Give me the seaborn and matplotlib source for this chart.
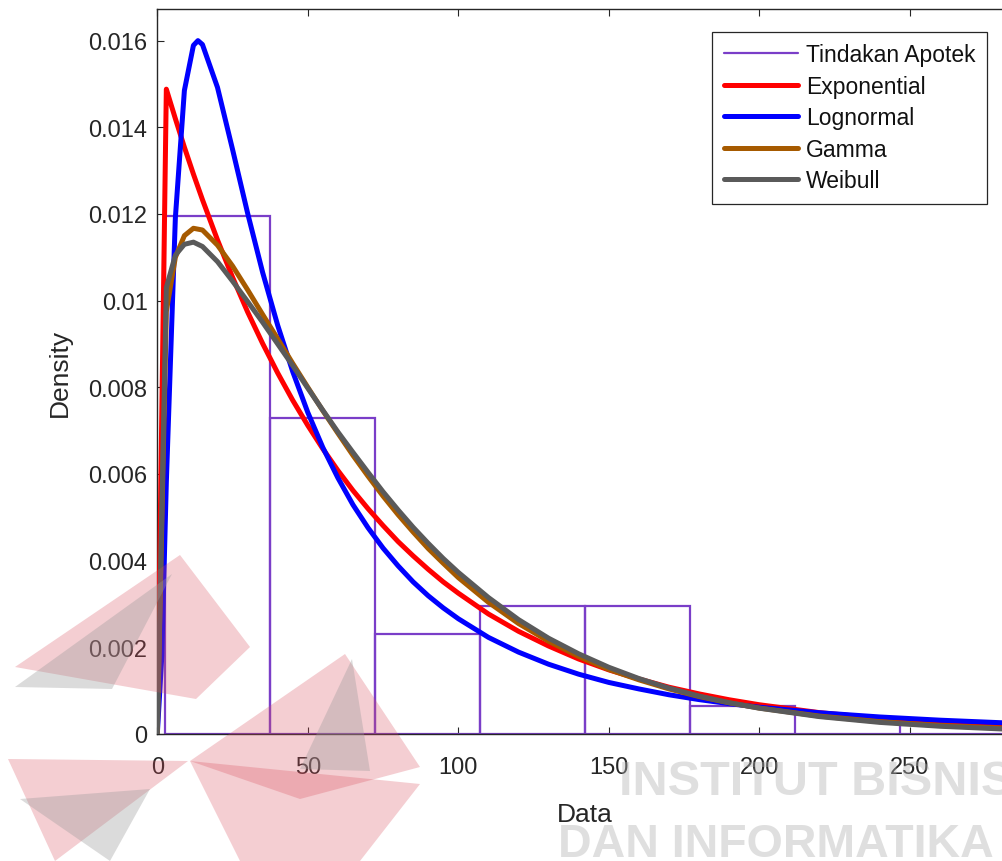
import matplotlib
matplotlib.use("Agg")
import matplotlib.pyplot as plt
import seaborn as sns
from matplotlib.lines import Line2D
from matplotlib.patches import Polygon
from matplotlib.ticker import FuncFormatter

# --- histogram of "Tindakan Apotek" (density per bin) ---
bin_edges = [2.5, 37.4, 72.3, 107.2, 142.1, 177.0, 211.9, 246.8, 281.7]
bin_density = [0.01195, 0.00729, 0.00231, 0.00295, 0.00295, 0.00064, 0.0, 0.0002]

# --- fitted pdf curves ---
x_grid = [0, 3, 6, 9, 12, 15, 20, 25, 30, 35, 40, 45, 50, 55, 60, 65, 70, 75,
          80, 85, 90, 95, 100, 110, 120, 130, 140, 150, 160, 170, 180, 190,
          200, 220, 240, 260, 280, 300]

exp_y = [0, 0.01488, 0.0142, 0.01354, 0.01292, 0.01233, 0.0114, 0.01054,
         0.00974, 0.00901, 0.00833, 0.0077, 0.00712, 0.00658, 0.00608, 0.00562,
         0.0052, 0.00481, 0.00444, 0.00411, 0.0038, 0.00351, 0.00325, 0.00277,
         0.00237, 0.00203, 0.00173, 0.00148, 0.00127, 0.00108, 0.000925,
         0.00079, 0.000675, 0.000493, 0.00036, 0.000263, 0.000192, 0.00014]

logn_x = [0, 1.5, 3, 6, 9, 12, 13.5] + x_grid[5:]
logn_y = [0, 0.0018, 0.00581, 0.01191, 0.01485, 0.01589, 0.0160, 0.01591,
          0.01492, 0.01349, 0.01202, 0.01065, 0.00943, 0.00836, 0.00742,
          0.00661, 0.00591, 0.00529, 0.00476, 0.00429, 0.00388, 0.00351,
          0.00319, 0.00291, 0.00266, 0.00223, 0.00189, 0.00161, 0.00138,
          0.00119, 0.00104, 0.000905, 0.000794, 0.0007, 0.000619, 0.00049,
          0.000393, 0.000319, 0.000261, 0.000216]

gam_y = [0, 0.00975, 0.0110, 0.0115, 0.01167, 0.01163, 0.01128, 0.0108,
         0.01025, 0.00968, 0.00912, 0.00855, 0.008, 0.00746, 0.00694, 0.00643,
         0.00595, 0.00549, 0.00506, 0.00466, 0.00428, 0.00394, 0.00361,
         0.00304, 0.00255, 0.00214, 0.00179, 0.00149, 0.00125, 0.00104,
         0.000865, 0.00072, 0.000599, 0.000413, 0.000285, 0.000196, 0.000135,
         0.000092]

wbl_y = [0, 0.0103, 0.01105, 0.0113, 0.01135, 0.01125, 0.0109, 0.01045,
         0.00998, 0.0095, 0.009, 0.0085, 0.00798, 0.00747, 0.00697, 0.0065,
         0.00604, 0.00559, 0.00517, 0.00477, 0.0044, 0.00405, 0.00373,
         0.00315, 0.00264, 0.00221, 0.00185, 0.00154, 0.00128, 0.00106,
         0.000876, 0.000723, 0.000595, 0.000401, 0.000268, 0.000179,
         0.000118, 0.000078]

x_ticks = [0, 50, 100, 150, 200, 250]
y_ticks = [0, 0.002, 0.004, 0.006, 0.008, 0.01, 0.012, 0.014, 0.016]

PURPLE = "#7a3ec8"
curves = [
    ("Exponential", x_grid, exp_y, "#ff0000"),
    ("Lognormal", logn_x, logn_y, "#0000ff"),
    ("Gamma", x_grid, gam_y, "#a65a00"),
    ("Weibull", x_grid, wbl_y, "#5a5a5a"),
]

sns.set_theme(style="ticks")
plt.rcParams["font.family"] = ["Liberation Sans", "DejaVu Sans"]

W, H = 1003, 862
fig = plt.figure(figsize=(W / 100, H / 100), dpi=100)
x_right = 1012
ax = fig.add_axes([157.3 / W, (H - 735) / H, (x_right - 157.3) / W, 725 / H])

centers = [(a + b) / 2 for a, b in zip(bin_edges[:-1], bin_edges[1:])]
sns.histplot(x=centers, weights=bin_density, bins=bin_edges, stat="count",
             fill=False, color=PURPLE, linewidth=1.6, ax=ax, zorder=2)

for name, xs, ys, col in curves:
    sns.lineplot(x=xs, y=ys, color=col, linewidth=3.6, ax=ax, zorder=3,
                 legend=False)

ax.set_xlim(0, (x_right - 157.3) / 3.01)
ax.set_ylim(0, 0.01673)
ax.set_xticks(x_ticks)
ax.set_yticks(y_ticks)
ax.yaxis.set_major_formatter(FuncFormatter(lambda v, p: f"{v:g}"))
ax.xaxis.set_major_formatter(FuncFormatter(lambda v, p: f"{v:g}"))

ax.tick_params(direction="in", length=5, width=0.8, top=True, right=True,
               colors="#262626", labelsize=17)
ax.tick_params(axis="x", pad=16)
ax.tick_params(axis="y", pad=7)
for sp in ax.spines.values():
    sp.set_visible(True)
    sp.set_color("#262626")
    sp.set_linewidth(1.0)

ax.set_xlabel("Data", fontsize=19, color="#262626", labelpad=17)
ax.set_ylabel("Density", fontsize=19, color="#262626", labelpad=12)

handles = [Line2D([], [], color=PURPLE, linewidth=1.6)]
handles += [Line2D([], [], color=c, linewidth=3.6) for _, _, _, c in curves]
labels = ["Tindakan Apotek"] + [n for n, _, _, _ in curves]
ax_w = x_right - 157.3
leg = ax.legend(handles, labels, loc="upper right",
                bbox_to_anchor=((987 - 157.3) / ax_w, (735 - 33) / 725),
                borderaxespad=0, fontsize=16.5, handlelength=3.25,
                handletextpad=0.35, labelspacing=0.37, fancybox=False,
                framealpha=1, edgecolor="#262626", borderpad=0.5)
leg.get_frame().set_linewidth(0.9)
for t in leg.get_texts():
    t.set_color("#111111")

# --- watermark (logo + institute name) ---
def fig_poly(pts, color, alpha):
    p = Polygon([(x / W, 1 - y / H) for x, y in pts], closed=True,
                transform=fig.transFigure, facecolor=color, edgecolor="none",
                alpha=alpha, zorder=10)
    fig.patches.append(p)

PINK = "#d9505e"
GREY = "#9a9a9a"
fig_poly([(15, 668), (180, 556), (250, 648), (196, 700)], PINK, 0.28)
fig_poly([(15, 688), (172, 575), (112, 690)], GREY, 0.35)
fig_poly([(190, 762), (345, 655), (420, 768), (300, 800)], PINK, 0.28)
fig_poly([(300, 770), (352, 660), (370, 772)], GREY, 0.35)
fig_poly([(8, 760), (188, 762), (55, 862)], PINK, 0.28)
fig_poly([(20, 800), (150, 790), (110, 862)], GREY, 0.35)
fig_poly([(190, 762), (420, 785), (360, 862), (240, 862)], PINK, 0.28)

wm_font = ["Liberation Sans", "DejaVu Sans"]
fig.text(619 / W, 1 - 795 / H, "INSTITUT BISNIS", fontsize=35,
         fontweight="bold", color="#b0b0b0", alpha=0.4, family=wm_font,
         ha="left", va="baseline", zorder=11)
fig.text(558 / W, 1 - 857 / H, "DAN INFORMATIKA", fontsize=33.5,
         fontweight="bold", color="#b0b0b0", alpha=0.4, family=wm_font,
         ha="left", va="baseline", zorder=11)

fig.savefig("out.png", dpi=100)
